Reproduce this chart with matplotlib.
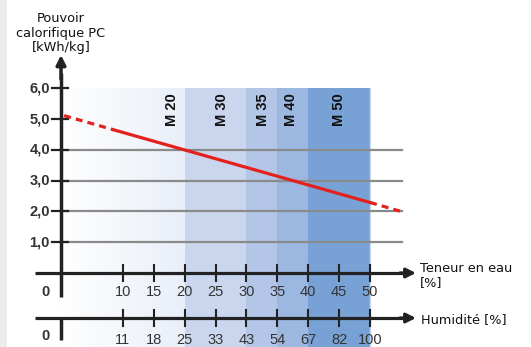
import matplotlib
matplotlib.use("Agg")
import matplotlib.pyplot as plt
import numpy as np
from matplotlib.colors import LinearSegmentedColormap

plt.rcParams['font.family'] = ['Liberation Sans', 'DejaVu Sans']

# ---- data ----
y_ticks = [1.0, 2.0, 3.0, 4.0, 5.0, 6.0]
y_labels = ["1,0", "2,0", "3,0", "4,0", "5,0", "6,0"]
grid_values = [1.0, 2.0, 3.0, 4.0]
teneur_ticks = [10, 15, 20, 25, 30, 35, 40, 45, 50]
humidite_labels = ["11", "18", "25", "33", "43", "54", "67", "82", "100"]
band_edges = [20, 30, 35, 40, 50]
band_names = ["M 20", "M 30", "M 35", "M 40", "M 50"]
band_label_x = [18, 26, 32.7, 37.2, 45]
band_colors = ["#c9d6ee", "#b3c6e7", "#9cb8e0", "#78a2d5"]
# calorific value line (water content %, kWh/kg)
line_dash_left_x = [0.5, 8.5]
line_dash_left_y = [5.11, 4.65]
line_solid_x = [8.5, 50]
line_solid_y = [4.65, 2.29]
line_dash_right_x = [50, 55]
line_dash_right_y = [2.29, 2.0]

# ---- figure: data coords mapped to pixels ----
W, H = 531, 347
fig = plt.figure(figsize=(W / 100, H / 100), dpi=100)
ax = fig.add_axes([0, 0, 1, 1])
px_per_x = 6.18
px_per_y = 30.8
x0_px, y0_px = 61, 273
xmin = -x0_px / px_per_x
xmax = (W - x0_px) / px_per_x
ymax = y0_px / px_per_y
ymin = -(H - y0_px) / px_per_y
ax.set_xlim(xmin, xmax)
ax.set_ylim(ymin, ymax)
ax.axis('off')

def px2x(p):
    return (p - x0_px) / px_per_x

def py2y(p):
    return (y0_px - p) / px_per_y

TITLE_FONT = ['DejaVu Sans']
NUM_FONT = ['Liberation Sans', 'DejaVu Sans']

# left grey strip
ax.axvspan(xmin, px2x(7), color="#ebebeb", zorder=0, lw=0)

# gradient band 0-20
cmap = LinearSegmentedColormap.from_list("g", ["#ffffff", "#e9eef8"])
grad = np.linspace(0, 1, 256).reshape(1, -1)
ax.imshow(grad, extent=[0, band_edges[0], ymin, 6.0], cmap=cmap, aspect='auto', zorder=0.5)
for i in range(len(band_colors)):
    ax.fill_between([band_edges[i], band_edges[i + 1]], ymin, 6.0, color=band_colors[i], lw=0, zorder=0.6)
ax.plot([50, 50], [ymin, 6.0], color="#c8d9ef", lw=1, zorder=0.7)

# band labels
for name, bx in zip(band_names, band_label_x):
    ax.text(bx, 5.3, name, rotation=90, ha='center', va='center', fontsize=10.5,
            fontweight='bold', color='#111111', zorder=3, family=NUM_FONT)

# grid lines
for g in grid_values:
    ax.plot([0, px2x(402)], [g, g], color='#8a8a8a', lw=1.6, zorder=1)

# y ticks
for v, lab in zip(y_ticks, y_labels):
    ax.plot([px2x(52), px2x(68)], [v, v], color='#222222', lw=1.6, zorder=4)
    ax.text(px2x(50), v, lab, ha='right', va='center', fontsize=10.5, fontweight='bold',
            color='#333333', family=NUM_FONT)

# red line
ax.plot(line_dash_left_x, line_dash_left_y, color='#e3211d', lw=2.3, ls=(0, (2.2, 1.6)), zorder=5)
ax.plot(line_solid_x, line_solid_y, color='#e3211d', lw=2.3, zorder=5)
ax.plot(line_dash_right_x, line_dash_right_y, color='#e3211d', lw=2.3, ls=(0, (2.2, 1.6)), zorder=5)

# y axis with arrow
ax.plot([0, 0], [py2y(297), 6.5], color='#222222', lw=2.5, zorder=4, solid_capstyle='butt')
ax.annotate('', xy=(0, py2y(55)), xytext=(0, 6.3),
            arrowprops=dict(arrowstyle='-|>', lw=2.5, color='#222222', mutation_scale=14, shrinkA=0, shrinkB=0),
            zorder=4)

# x axes
hum_y = py2y(318)
for yy in [0, hum_y]:
    ax.plot([px2x(35), px2x(405)], [yy, yy], color='#222222', lw=2.3, zorder=4, solid_capstyle='butt')
    ax.annotate('', xy=(px2x(416), yy), xytext=(px2x(400), yy),
                arrowprops=dict(arrowstyle='-|>', lw=2.3, color='#222222', mutation_scale=14, shrinkA=0, shrinkB=0),
                zorder=4)
    for t in teneur_ticks:
        ax.plot([t, t], [yy - 8 / px_per_y, yy + 8 / px_per_y], color='#222222', lw=1.5, zorder=4)

# second axis zero segment
ax.plot([0, 0], [py2y(317), py2y(340)], color='#222222', lw=2.5, zorder=4, solid_capstyle='butt')

# x tick labels
ax.text(px2x(45), py2y(292), "0", ha='center', va='center', fontsize=10.5, fontweight='bold',
        color='#333333', family=NUM_FONT)
ax.text(px2x(45), py2y(336), "0", ha='center', va='center', fontsize=10.5, fontweight='bold',
        color='#333333', family=NUM_FONT)
for t in teneur_ticks:
    ax.text(t, py2y(292), str(t), ha='center', va='center', fontsize=10.5, color='#333333', family=NUM_FONT)
for t, lab in zip(teneur_ticks, humidite_labels):
    ax.text(t, py2y(340), lab, ha='center', va='center', fontsize=10.5, color='#333333', family=NUM_FONT)

# axis titles
ax.text(0, py2y(33), "Pouvoir\ncalorifique PC\n[kWh/kg]", ha='center', va='center', fontsize=9.3,
        color='#111111', linespacing=1.2, family=TITLE_FONT)
ax.text(px2x(420), py2y(275.5), "Teneur en eau\n[%]", ha='left', va='center', fontsize=9.3,
        color='#111111', linespacing=1.2, family=TITLE_FONT)
ax.text(px2x(421), py2y(320), "Humidité [%]", ha='left', va='center', fontsize=9.3,
        color='#111111', family=TITLE_FONT)

fig.savefig("out.png", dpi=100)
